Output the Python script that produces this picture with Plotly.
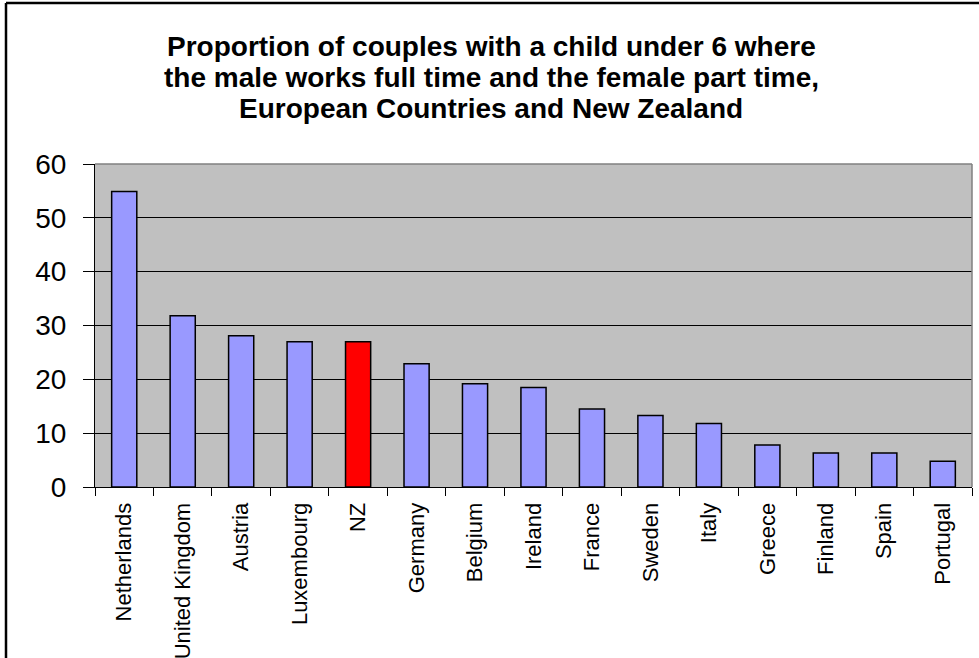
import plotly.graph_objects as go

countries = ["Netherlands", "United Kingdom", "Austria", "Luxembourg", "NZ", "Germany",
             "Belgium", "Ireland", "France", "Sweden", "Italy", "Greece", "Finland",
             "Spain", "Portugal"]
values = [54.9, 31.8, 28.1, 27.0, 27.0, 22.9, 19.2, 18.5, 14.5, 13.3, 11.8, 7.8, 6.3, 6.3, 4.8]
highlight = "NZ"
title_lines = ["Proportion of couples with a child under 6 where",
               "the male works full time and the female part time,",
               "European Countries and New Zealand"]

W, H = 979, 658
L, R, T, B = 95, 7, 164, 171
pw, ph = W - L - R, H - T - B

def px_x(p):
    return (p - L) / pw

def px_y(p):
    return (H - B - p) / ph

colors = ["#FF0000" if c == highlight else "#9999FF" for c in countries]

fig = go.Figure(go.Bar(
    x=countries, y=values,
    marker=dict(color=colors, line=dict(color="black", width=1.5)),
    width=0.43,
))

font = "Liberation Sans, Arial, sans-serif"
fig.update_layout(
    width=W, height=H,
    margin=dict(l=L, r=R, t=T, b=B, pad=0, autoexpand=False),
    paper_bgcolor="white", plot_bgcolor="#C0C0C0",
    showlegend=False,
    font=dict(family=font, color="black"),
)
title_centers = [46, 77, 108]
for line, yc in zip(title_lines, title_centers):
    fig.add_annotation(text="<b>" + line + "</b>", xref="paper", yref="paper",
                       x=px_x(491), y=px_y(yc), xanchor="center", yanchor="middle",
                       showarrow=False,
                       font=dict(family=font, size=28, color="black"))

fig.update_yaxes(range=[0, 60], dtick=10, showgrid=True, gridcolor="black", gridwidth=1,
                 zeroline=False, showline=True, linecolor="black", linewidth=1,
                 ticks="outside", ticklen=11, tickcolor="black", tickwidth=1,
                 tickfont=dict(family=font, size=28, color="black"),
                 ticklabelstandoff=11, automargin=False)
fig.update_xaxes(showline=True, linecolor="black", linewidth=1,
                 ticks="outside", ticklen=8, tickcolor="black", tickwidth=1,
                 tickson="boundaries", tickangle=-90,
                 tickfont=dict(family=font, size=22, color="black"),
                 ticklabelstandoff=6, automargin=False)

# plot area grey border on top and right
fig.add_shape(type="line", xref="paper", yref="paper", x0=0, x1=1, y0=1, y1=1,
              line=dict(color="#808080", width=1.5))
fig.add_shape(type="line", xref="paper", yref="paper", x0=1, x1=1, y0=0, y1=1,
              line=dict(color="#808080", width=1.5))
# outer chart frame (left and top)
fig.add_shape(type="line", xref="paper", yref="paper",
              x0=px_x(6), x1=px_x(990), y0=px_y(3), y1=px_y(3),
              line=dict(color="black", width=2.5))
fig.add_shape(type="line", xref="paper", yref="paper",
              x0=px_x(6), x1=px_x(6), y0=px_y(3), y1=px_y(670),
              line=dict(color="black", width=2.5))

fig.write_html("out.html", config={"displayModeBar": False},
               post_script="document.body.style.margin='0';document.body.style.overflow='hidden';")
